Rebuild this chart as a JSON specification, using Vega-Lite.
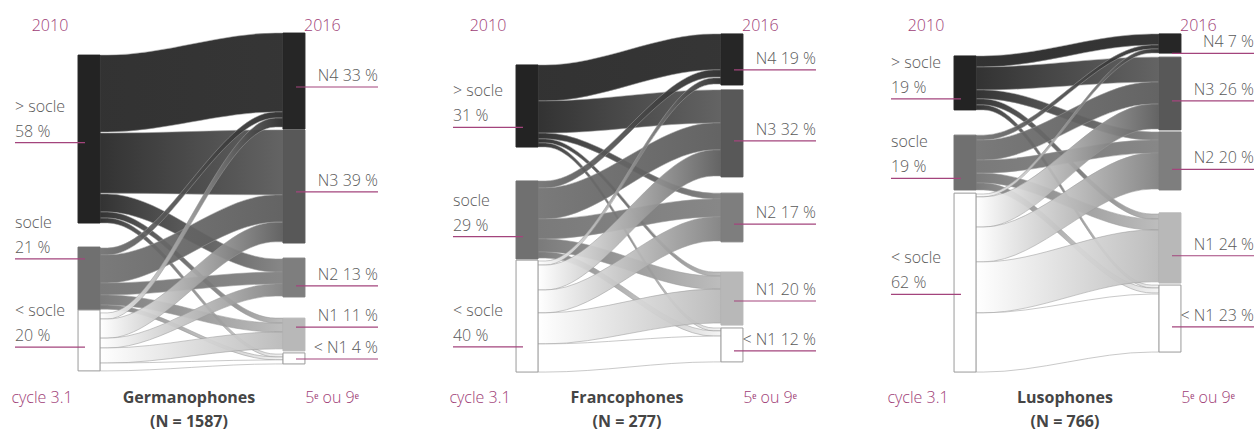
{
  "$schema": "https://vega.github.io/schema/vega-lite/v6.json",
  "padding": 0,
  "spacing": 58,
  "config": {"view": {"stroke": null}, "font": "Open Sans", "text": {"font": "Open Sans"}},
  "data": {"values": [
    {"kind":"panel","lang":"Germanophones","n":"(N = 1587)"},
    {"kind":"panel","lang":"Francophones","n":"(N = 277)"},
    {"kind":"panel","lang":"Lusophones","n":"(N = 766)"},

    {"kind":"node","lang":"Germanophones","side":"L","node":">socle","y0":19.0,"y1":76.9,"ly":49.2,"name":"> socle","pct":"58 %"},
    {"kind":"node","lang":"Germanophones","side":"L","node":"socle","y0":85.2,"y1":106.9,"ly":89.3,"name":"socle","pct":"21 %"},
    {"kind":"node","lang":"Germanophones","side":"L","node":"<socle","y0":106.9,"y1":127.9,"ly":119.7,"name":"< socle","pct":"20 %"},
    {"kind":"node","lang":"Germanophones","side":"R","node":"N4","y0":11.4,"y1":44.5,"ly":30.0,"name":"N4 33 %"},
    {"kind":"node","lang":"Germanophones","side":"R","node":"N3","y0":44.8,"y1":83.8,"ly":66.2,"name":"N3 39 %"},
    {"kind":"node","lang":"Germanophones","side":"R","node":"N2","y0":89.0,"y1":102.4,"ly":98.6,"name":"N2 13 %"},
    {"kind":"node","lang":"Germanophones","side":"R","node":"N1","y0":109.7,"y1":121.0,"ly":112.8,"name":"N1 11 %"},
    {"kind":"node","lang":"Germanophones","side":"R","node":"<N1","y0":121.7,"y1":125.5,"ly":123.8,"name":"< N1 4 %"},

    {"kind":"node","lang":"Francophones","side":"L","node":">socle","y0":22.4,"y1":50.7,"ly":43.9,"name":"> socle","pct":"31 %"},
    {"kind":"node","lang":"Francophones","side":"L","node":"socle","y0":62.4,"y1":89.3,"ly":81.6,"name":"socle","pct":"29 %"},
    {"kind":"node","lang":"Francophones","side":"L","node":"<socle","y0":89.7,"y1":128.3,"ly":119.6,"name":"< socle","pct":"40 %"},
    {"kind":"node","lang":"Francophones","side":"R","node":"N4","y0":11.7,"y1":29.3,"ly":24.1,"name":"N4 19 %"},
    {"kind":"node","lang":"Francophones","side":"R","node":"N3","y0":31.0,"y1":61.0,"ly":48.6,"name":"N3 32 %"},
    {"kind":"node","lang":"Francophones","side":"R","node":"N2","y0":66.6,"y1":83.4,"ly":77.3,"name":"N2 17 %"},
    {"kind":"node","lang":"Francophones","side":"R","node":"N1","y0":93.8,"y1":112.1,"ly":103.8,"name":"N1 20 %"},
    {"kind":"node","lang":"Francophones","side":"R","node":"<N1","y0":113.1,"y1":124.8,"ly":121.0,"name":"< N1 12 %"},

    {"kind":"node","lang":"Lusophones","side":"L","node":">socle","y0":19.3,"y1":37.9,"ly":34.1,"name":"> socle","pct":"19 %"},
    {"kind":"node","lang":"Lusophones","side":"L","node":"socle","y0":46.6,"y1":65.5,"ly":61.5,"name":"socle","pct":"19 %"},
    {"kind":"node","lang":"Lusophones","side":"L","node":"<socle","y0":66.6,"y1":128.3,"ly":101.5,"name":"< socle","pct":"62 %"},
    {"kind":"node","lang":"Lusophones","side":"R","node":"N4","y0":11.7,"y1":18.3,"ly":18.4,"name":"N4 7 %"},
    {"kind":"node","lang":"Lusophones","side":"R","node":"N3","y0":19.7,"y1":44.8,"ly":34.8,"name":"N3 26 %"},
    {"kind":"node","lang":"Lusophones","side":"R","node":"N2","y0":45.5,"y1":65.5,"ly":58.4,"name":"N2 20 %"},
    {"kind":"node","lang":"Lusophones","side":"R","node":"N1","y0":73.4,"y1":97.6,"ly":88.2,"name":"N1 24 %"},
    {"kind":"node","lang":"Lusophones","side":"R","node":"<N1","y0":98.3,"y1":121.4,"ly":112.7,"name":"< N1 23 %"},

    {"kind":"flow","lang":"Germanophones","g":">socle|N4","t":[0,0.04,0.96,1],"y0":[19.0,19.0,11.4,11.4],"y1":[45.5,45.5,38.6,38.6]},
    {"kind":"flow","lang":"Germanophones","g":">socle|N3","t":[0,0.04,0.96,1],"y0":[45.9,45.9,44.8,44.8],"y1":[66.6,66.6,67.2,67.2]},
    {"kind":"flow","lang":"Germanophones","g":">socle|N2","t":[0,0.04,0.96,1],"y0":[66.9,66.9,89.3,89.3],"y1":[73.1,73.1,93.8,93.8]},
    {"kind":"flow","lang":"Germanophones","g":">socle|N1","t":[0,0.04,0.96,1],"y0":[73.1,73.1,109.7,109.7],"y1":[75.2,75.2,111.4,111.4]},
    {"kind":"flow","lang":"Germanophones","g":">socle|<N1","t":[0,0.04,0.96,1],"y0":[75.2,75.2,122.1,122.1],"y1":[76.9,76.9,123.1,123.1]},
    {"kind":"flow","lang":"Germanophones","g":"socle|N4","t":[0,0.04,0.96,1],"y0":[85.5,85.5,38.6,38.6],"y1":[87.9,87.9,40.7,40.7]},
    {"kind":"flow","lang":"Germanophones","g":"socle|N3","t":[0,0.04,0.96,1],"y0":[87.9,87.9,67.2,67.2],"y1":[97.6,97.6,76.6,76.6]},
    {"kind":"flow","lang":"Germanophones","g":"socle|N2","t":[0,0.04,0.96,1],"y0":[97.6,97.6,93.8,93.8],"y1":[101.7,101.7,97.9,97.9]},
    {"kind":"flow","lang":"Germanophones","g":"socle|N1","t":[0,0.04,0.96,1],"y0":[101.7,101.7,111.4,111.4],"y1":[105.2,105.2,114.5,114.5]},
    {"kind":"flow","lang":"Germanophones","g":"socle|<N1","t":[0,0.04,0.96,1],"y0":[105.2,105.2,123.1,123.1],"y1":[106.6,106.6,124.1,124.1]},
    {"kind":"flow","lang":"Germanophones","g":"<socle|N4","t":[0,0.04,0.96,1],"y0":[107.9,107.9,40.7,40.7],"y1":[110.0,110.0,43.8,43.8]},
    {"kind":"flow","lang":"Germanophones","g":"<socle|N3","t":[0,0.04,0.96,1],"y0":[110.0,110.0,76.6,76.6],"y1":[116.6,116.6,83.4,83.4]},
    {"kind":"flow","lang":"Germanophones","g":"<socle|N2","t":[0,0.04,0.96,1],"y0":[116.6,116.6,97.9,97.9],"y1":[120.0,120.0,102.1,102.1]},
    {"kind":"flow","lang":"Germanophones","g":"<socle|N1","t":[0,0.04,0.96,1],"y0":[120.0,120.0,114.5,114.5],"y1":[125.2,125.2,120.3,120.3]},
    {"kind":"flow","lang":"Germanophones","g":"<socle|<N1","t":[0,0.04,0.96,1],"y0":[125.2,125.2,124.1,124.1],"y1":[127.9,127.9,125.5,125.5]},

    {"kind":"flow","lang":"Francophones","g":">socle|N4","t":[0,0.04,0.96,1],"y0":[22.4,22.4,11.7,11.7],"y1":[34.8,34.8,24.1,24.1]},
    {"kind":"flow","lang":"Francophones","g":">socle|N3","t":[0,0.04,0.96,1],"y0":[34.8,34.8,31.0,31.0],"y1":[45.9,45.9,42.4,42.4]},
    {"kind":"flow","lang":"Francophones","g":">socle|N2","t":[0,0.04,0.96,1],"y0":[45.9,45.9,66.6,66.6],"y1":[47.9,47.9,68.6,68.6]},
    {"kind":"flow","lang":"Francophones","g":">socle|N1","t":[0,0.04,0.96,1],"y0":[47.9,47.9,93.8,93.8],"y1":[49.3,49.3,95.2,95.2]},
    {"kind":"flow","lang":"Francophones","g":">socle|<N1","t":[0,0.04,0.96,1],"y0":[49.3,49.3,113.1,113.1],"y1":[50.7,50.7,114.1,114.1]},
    {"kind":"flow","lang":"Francophones","g":"socle|N4","t":[0,0.04,0.96,1],"y0":[62.4,62.4,24.1,24.1],"y1":[64.8,64.8,26.6,26.6]},
    {"kind":"flow","lang":"Francophones","g":"socle|N3","t":[0,0.04,0.96,1],"y0":[64.8,64.8,42.4,42.4],"y1":[75.5,75.5,51.7,51.7]},
    {"kind":"flow","lang":"Francophones","g":"socle|N2","t":[0,0.04,0.96,1],"y0":[75.5,75.5,68.6,68.6],"y1":[82.4,82.4,74.8,74.8]},
    {"kind":"flow","lang":"Francophones","g":"socle|N1","t":[0,0.04,0.96,1],"y0":[82.4,82.4,95.2,95.2],"y1":[86.9,86.9,99.7,99.7]},
    {"kind":"flow","lang":"Francophones","g":"socle|<N1","t":[0,0.04,0.96,1],"y0":[86.9,86.9,114.1,114.1],"y1":[89.0,89.0,115.9,115.9]},
    {"kind":"flow","lang":"Francophones","g":"<socle|N4","t":[0,0.04,0.96,1],"y0":[90.0,90.0,26.9,26.9],"y1":[91.4,91.4,29.0,29.0]},
    {"kind":"flow","lang":"Francophones","g":"<socle|N3","t":[0,0.04,0.96,1],"y0":[91.4,91.4,51.7,51.7],"y1":[100.0,100.0,60.7,60.7]},
    {"kind":"flow","lang":"Francophones","g":"<socle|N2","t":[0,0.04,0.96,1],"y0":[100.0,100.0,74.8,74.8],"y1":[107.9,107.9,83.1,83.1]},
    {"kind":"flow","lang":"Francophones","g":"<socle|N1","t":[0,0.04,0.96,1],"y0":[107.9,107.9,99.7,99.7],"y1":[118.6,118.6,111.4,111.4]},
    {"kind":"flow","lang":"Francophones","g":"<socle|<N1","t":[0,0.04,0.96,1],"y0":[118.6,118.6,115.9,115.9],"y1":[128.3,128.3,124.8,124.8]},

    {"kind":"flow","lang":"Lusophones","g":">socle|N4","t":[0,0.04,0.96,1],"y0":[19.3,19.3,11.7,11.7],"y1":[23.1,23.1,15.5,15.5]},
    {"kind":"flow","lang":"Lusophones","g":">socle|N3","t":[0,0.04,0.96,1],"y0":[23.1,23.1,19.7,19.7],"y1":[31.0,31.0,28.3,28.3]},
    {"kind":"flow","lang":"Lusophones","g":">socle|N2","t":[0,0.04,0.96,1],"y0":[31.0,31.0,45.5,45.5],"y1":[34.1,34.1,48.3,48.3]},
    {"kind":"flow","lang":"Lusophones","g":">socle|N1","t":[0,0.04,0.96,1],"y0":[34.1,34.1,73.8,73.8],"y1":[36.2,36.2,75.5,75.5]},
    {"kind":"flow","lang":"Lusophones","g":">socle|<N1","t":[0,0.04,0.96,1],"y0":[36.2,36.2,98.3,98.3],"y1":[37.9,37.9,99.3,99.3]},
    {"kind":"flow","lang":"Lusophones","g":"socle|N4","t":[0,0.04,0.96,1],"y0":[46.6,46.6,15.5,15.5],"y1":[48.3,48.3,16.9,16.9]},
    {"kind":"flow","lang":"Lusophones","g":"socle|N3","t":[0,0.04,0.96,1],"y0":[48.3,48.3,28.3,28.3],"y1":[55.2,55.2,35.9,35.9]},
    {"kind":"flow","lang":"Lusophones","g":"socle|N2","t":[0,0.04,0.96,1],"y0":[55.2,55.2,48.3,48.3],"y1":[59.7,59.7,52.8,52.8]},
    {"kind":"flow","lang":"Lusophones","g":"socle|N1","t":[0,0.04,0.96,1],"y0":[59.7,59.7,75.5,75.5],"y1":[63.1,63.1,79.3,79.3]},
    {"kind":"flow","lang":"Lusophones","g":"socle|<N1","t":[0,0.04,0.96,1],"y0":[63.1,63.1,99.3,99.3],"y1":[65.5,65.5,101.0,101.0]},
    {"kind":"flow","lang":"Lusophones","g":"<socle|N4","t":[0,0.04,0.96,1],"y0":[66.9,66.9,16.9,16.9],"y1":[67.9,67.9,18.3,18.3]},
    {"kind":"flow","lang":"Lusophones","g":"<socle|N3","t":[0,0.04,0.96,1],"y0":[67.9,67.9,35.9,35.9],"y1":[78.3,78.3,44.5,44.5]},
    {"kind":"flow","lang":"Lusophones","g":"<socle|N2","t":[0,0.04,0.96,1],"y0":[78.3,78.3,52.8,52.8],"y1":[90.3,90.3,65.2,65.2]},
    {"kind":"flow","lang":"Lusophones","g":"<socle|N1","t":[0,0.04,0.96,1],"y0":[90.3,90.3,79.3,79.3],"y1":[107.9,107.9,97.2,97.2]},
    {"kind":"flow","lang":"Lusophones","g":"<socle|<N1","t":[0,0.04,0.96,1],"y0":[107.9,107.9,101.4,101.4],"y1":[128.3,128.3,121.4,121.4]}
  ]},
  "facet": {"column": {"field": "lang", "type": "nominal", "sort": ["Germanophones", "Francophones", "Lusophones"], "header": null, "title": null}},
  "spec": {
    "width": 380,
    "height": 430,
    "resolve": {"scale": {"fill": "independent", "stroke": "independent"}},
    "layer": [
      {
        "transform": [{"filter": "datum.kind === 'flow'"}, {"flatten": ["t", "y0", "y1"]}],
        "mark": {"type": "area", "orient": "vertical", "interpolate": "monotone", "stroke": "#9a9a9a", "strokeWidth": 0.6, "strokeOpacity": 0.9, "fillOpacity": 0.93},
        "encoding": {
          "x": {"field": "t", "type": "quantitative", "scale": {"domain": [-0.5464, 1.5301], "nice": false, "zero": false}, "axis": null},
          "y": {"field": "y0", "type": "quantitative", "stack": null, "scale": {"domain": [0, 148.28], "reverse": true, "nice": false, "zero": false}, "axis": null},
          "y2": {"field": "y1"},
          "fill": {"field": "g", "type": "nominal", "legend": null, "scale": {
            "domain": [">socle|N4", ">socle|N3", ">socle|N2", ">socle|N1", ">socle|<N1", "socle|N4", "socle|N3", "socle|N2", "socle|N1", "socle|<N1", "<socle|N4", "<socle|N3", "<socle|N2", "<socle|N1", "<socle|<N1"],
            "range": [
              {"expr": "{gradient:'linear',x1:0,y1:0,x2:1,y2:0,stops:[{offset:0,color:'#232323'},{offset:1,color:'#262626'}]}"},
              {"expr": "{gradient:'linear',x1:0,y1:0,x2:1,y2:0,stops:[{offset:0,color:'#232323'},{offset:1,color:'#585858'}]}"},
              {"expr": "{gradient:'linear',x1:0,y1:0,x2:1,y2:0,stops:[{offset:0,color:'#232323'},{offset:1,color:'#7e7e7e'}]}"},
              {"expr": "{gradient:'linear',x1:0,y1:0,x2:1,y2:0,stops:[{offset:0,color:'#232323'},{offset:1,color:'#b8b8b8'}]}"},
              {"expr": "{gradient:'linear',x1:0,y1:0,x2:1,y2:0,stops:[{offset:0,color:'#232323'},{offset:1,color:'#f4f4f4'}]}"},
              {"expr": "{gradient:'linear',x1:0,y1:0,x2:1,y2:0,stops:[{offset:0,color:'#707070'},{offset:1,color:'#262626'}]}"},
              {"expr": "{gradient:'linear',x1:0,y1:0,x2:1,y2:0,stops:[{offset:0,color:'#707070'},{offset:1,color:'#585858'}]}"},
              {"expr": "{gradient:'linear',x1:0,y1:0,x2:1,y2:0,stops:[{offset:0,color:'#707070'},{offset:1,color:'#7e7e7e'}]}"},
              {"expr": "{gradient:'linear',x1:0,y1:0,x2:1,y2:0,stops:[{offset:0,color:'#707070'},{offset:1,color:'#b8b8b8'}]}"},
              {"expr": "{gradient:'linear',x1:0,y1:0,x2:1,y2:0,stops:[{offset:0,color:'#707070'},{offset:1,color:'#f4f4f4'}]}"},
              {"expr": "{gradient:'linear',x1:0,y1:0,x2:1,y2:0,stops:[{offset:0,color:'#ffffff'},{offset:1,color:'#262626'}]}"},
              {"expr": "{gradient:'linear',x1:0,y1:0,x2:1,y2:0,stops:[{offset:0,color:'#ffffff'},{offset:1,color:'#585858'}]}"},
              {"expr": "{gradient:'linear',x1:0,y1:0,x2:1,y2:0,stops:[{offset:0,color:'#ffffff'},{offset:1,color:'#7e7e7e'}]}"},
              {"expr": "{gradient:'linear',x1:0,y1:0,x2:1,y2:0,stops:[{offset:0,color:'#ffffff'},{offset:1,color:'#b8b8b8'}]}"},
              {"expr": "{gradient:'linear',x1:0,y1:0,x2:1,y2:0,stops:[{offset:0,color:'#ffffff'},{offset:1,color:'#ffffff'}]}"}
            ]}}
        }
      },
      {
        "transform": [{"filter": "datum.kind === 'node' && datum.side === 'L'"}],
        "mark": {"type": "rect", "strokeWidth": 1},
        "encoding": {
          "x": {"datum": -0.12},
          "x2": {"datum": 0},
          "y": {"field": "y0", "type": "quantitative"},
          "y2": {"field": "y1"},
          "fill": {"field": "node", "type": "nominal", "legend": null, "scale": {"domain": [">socle", "socle", "<socle", "N4", "N3", "N2", "N1", "<N1"], "range": ["#232323", "#707070", "#ffffff", "#262626", "#585858", "#7e7e7e", "#b8b8b8", "#ffffff"]}},
          "stroke": {"field": "node", "type": "nominal", "legend": null, "scale": {"domain": [">socle", "socle", "<socle", "N4", "N3", "N2", "N1", "<N1"], "range": ["#232323", "#707070", "#9a9a9a", "#262626", "#585858", "#7e7e7e", "#b8b8b8", "#9a9a9a"]}}
        }
      },
      {
        "transform": [{"filter": "datum.kind === 'node' && datum.side === 'R'"}],
        "mark": {"type": "rect", "strokeWidth": 1},
        "encoding": {
          "x": {"datum": 1},
          "x2": {"datum": 1.12},
          "y": {"field": "y0", "type": "quantitative"},
          "y2": {"field": "y1"},
          "fill": {"field": "node", "type": "nominal", "legend": null, "scale": {"domain": [">socle", "socle", "<socle", "N4", "N3", "N2", "N1", "<N1"], "range": ["#232323", "#707070", "#ffffff", "#262626", "#585858", "#7e7e7e", "#b8b8b8", "#ffffff"]}},
          "stroke": {"field": "node", "type": "nominal", "legend": null, "scale": {"domain": [">socle", "socle", "<socle", "N4", "N3", "N2", "N1", "<N1"], "range": ["#232323", "#707070", "#9a9a9a", "#262626", "#585858", "#7e7e7e", "#b8b8b8", "#9a9a9a"]}}
        }
      },
      {
        "transform": [{"filter": "datum.kind === 'node' && datum.side === 'L'"}],
        "mark": {"type": "text", "align": "left", "baseline": "alphabetic", "dy": -31, "fontSize": 16, "fontWeight": 300, "color": "#5a5a5a"},
        "encoding": {"x": {"datum": -0.4645}, "y": {"field": "ly", "type": "quantitative"}, "text": {"field": "name"}}
      },
      {
        "transform": [{"filter": "datum.kind === 'node' && datum.side === 'L'"}],
        "mark": {"type": "text", "align": "left", "baseline": "alphabetic", "dy": -6, "fontSize": 16, "fontWeight": 300, "color": "#5a5a5a"},
        "encoding": {"x": {"datum": -0.4645}, "y": {"field": "ly", "type": "quantitative"}, "text": {"field": "pct"}}
      },
      {
        "transform": [{"filter": "datum.kind === 'node' && datum.side === 'R'"}],
        "mark": {"type": "text", "align": "right", "baseline": "alphabetic", "dy": -6, "fontSize": 16, "fontWeight": 300, "color": "#5a5a5a"},
        "encoding": {"x": {"datum": 1.5191}, "y": {"field": "ly", "type": "quantitative"}, "text": {"field": "name"}}
      },
      {
        "transform": [{"filter": "datum.kind === 'node' && datum.side === 'L'"}],
        "mark": {"type": "rule", "color": "#a3447c", "strokeWidth": 1.2},
        "encoding": {"x": {"datum": -0.4645}, "x2": {"datum": -0.082}, "y": {"field": "ly", "type": "quantitative"}}
      },
      {
        "transform": [{"filter": "datum.kind === 'node' && datum.side === 'R'"}],
        "mark": {"type": "rule", "color": "#a3447c", "strokeWidth": 1.2},
        "encoding": {"x": {"datum": 1.071}, "x2": {"datum": 1.5191}, "y": {"field": "ly", "type": "quantitative"}}
      },
      {
        "transform": [{"filter": "datum.kind === 'panel'"}],
        "mark": {"type": "text", "align": "center", "baseline": "alphabetic", "fontSize": 16, "fontWeight": 300, "color": "#9e3d76", "text": "2010"},
        "encoding": {"x": {"datum": -0.2732}, "y": {"datum": 10.59}}
      },
      {
        "transform": [{"filter": "datum.kind === 'panel'"}],
        "mark": {"type": "text", "align": "left", "baseline": "alphabetic", "fontSize": 16, "fontWeight": 300, "color": "#9e3d76", "text": "2016"},
        "encoding": {"x": {"datum": 1.1148}, "y": {"datum": 10.59}}
      },
      {
        "transform": [{"filter": "datum.kind === 'panel'"}],
        "mark": {"type": "text", "align": "center", "baseline": "alphabetic", "fontSize": 16, "fontWeight": 300, "color": "#9e3d76", "text": "cycle 3.1"},
        "encoding": {"x": {"datum": -0.3169}, "y": {"datum": 139.1}}
      },
      {
        "transform": [{"filter": "datum.kind === 'panel'"}],
        "mark": {"type": "text", "align": "center", "baseline": "alphabetic", "fontSize": 16, "fontWeight": 300, "color": "#9e3d76", "text": "5ᵉ ou 9ᵉ"},
        "encoding": {"x": {"datum": 1.2678}, "y": {"datum": 139.1}}
      },
      {
        "transform": [{"filter": "datum.kind === 'panel'"}],
        "mark": {"type": "text", "align": "center", "baseline": "alphabetic", "fontSize": 16, "fontWeight": "bold", "color": "#454545"},
        "encoding": {"x": {"datum": 0.4863}, "y": {"datum": 139.1}, "text": {"field": "lang"}}
      },
      {
        "transform": [{"filter": "datum.kind === 'panel'"}],
        "mark": {"type": "text", "align": "center", "baseline": "alphabetic", "fontSize": 16, "fontWeight": "bold", "color": "#454545"},
        "encoding": {"x": {"datum": 0.4863}, "y": {"datum": 147.4}, "text": {"field": "n"}}
      }
    ]
  }
}
